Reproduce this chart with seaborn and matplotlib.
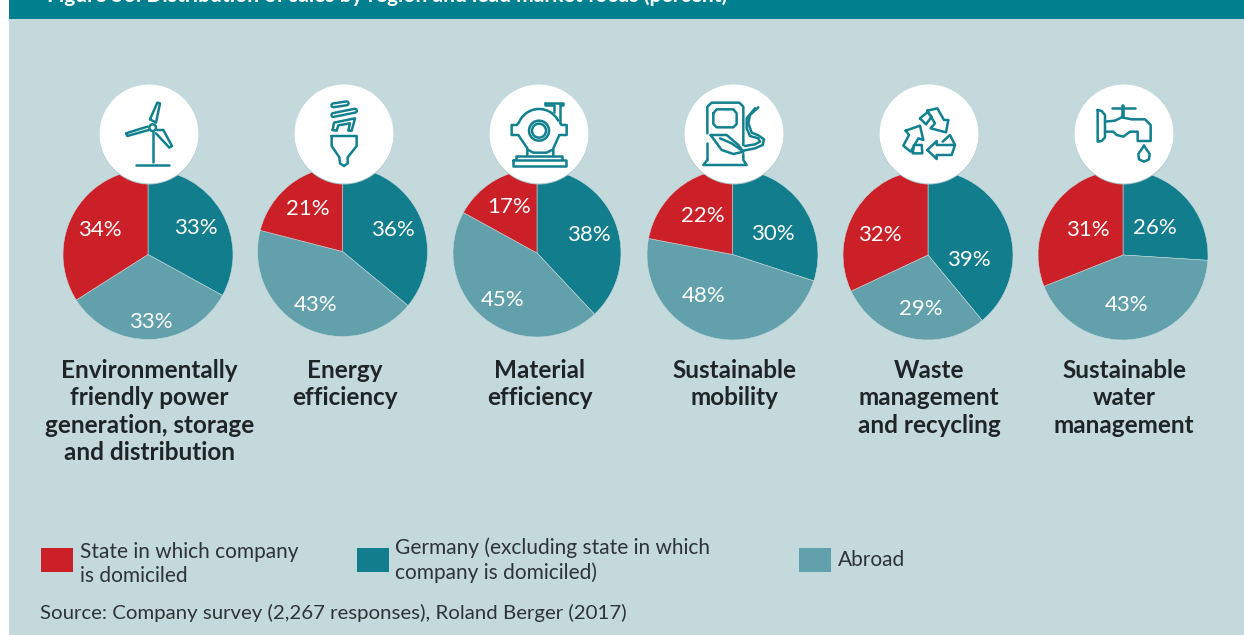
import matplotlib
matplotlib.use('Agg')
import matplotlib.pyplot as plt
from matplotlib.patches import Arc, Circle, Rectangle
import seaborn as sns

W, H = 1244, 635
DPI = 100

# values per market, in the order of the slices (clockwise from 12 o'clock)
MARKETS = ['Environmentally\nfriendly power\ngeneration, storage\nand distribution',
           'Energy\nefficiency',
           'Material\nefficiency',
           'Sustainable\nmobility',
           'Waste\nmanagement\nand recycling',
           'Sustainable\nwater\nmanagement']
GERMANY = [33, 36, 38, 30, 39, 26]
ABROAD = [33, 43, 45, 48, 29, 43]
STATE = [34, 21, 17, 22, 32, 31]

LEGEND_LABELS = ['State in which company\nis domiciled',
                 'Germany (excluding state in which\ncompany is domiciled)',
                 'Abroad']
TITLE = 'Figure 56: Distribution of sales by region and lead market focus (percent)'
SOURCE = 'Source: Company survey (2,267 responses), Roland Berger (2017)'

# layout in reference pixels
PIE_CENTERS = [(148, 254.5), (342.5, 251.5), (537, 253), (732.5, 254.5), (928, 255), (1123, 255)]
PIE_RADIUS = [85, 85, 84, 85.5, 85, 85]
ICON_CENTERS = [149, 344, 539, 734, 929, 1124]
TITLE_X = [149.5, 344.5, 539.5, 734, 929, 1124]
LABEL_POS = [[(196, 228), (151, 322), (100, 230)],
             [(393, 230), (316, 305), (308, 209)],
             [(589, 235), (503, 300), (509, 207)],
             [(773, 234), (704, 296), (703, 216)],
             [(969, 260), (921, 309), (880, 235)],
             [(1155, 228), (1127, 305), (1088, 230)]]

BAND = '#00808f'
PANEL = '#c4d9dc'
INK = '#2e3335'
ICON = '#12808e'

sns.set_theme(style='white')
plt.rcParams['font.family'] = ['Lato', 'DejaVu Sans']
palette = sns.color_palette(['#127d8c', '#62a0ab', '#cb2027'])
LW = 1.8


def Y(y):
    return H - y


def trace(ax, pts, ox, oy, closed=False, lw=LW, color=ICON):
    """Icon outline given in 3x crop coordinates, ox/oy is the crop origin."""
    xy = [(ox + x / 3, Y(oy + y / 3)) for x, y in pts]
    if closed:
        xy.append(xy[0])
    ax.plot(*zip(*xy), color=color, lw=lw, solid_capstyle='round',
            solid_joinstyle='round', zorder=6)


def ring(ax, x, y, r, ox, oy, lw=LW):
    ax.add_patch(Circle((ox + x / 3, Y(oy + y / 3)), r / 3, fc='none', ec=ICON, lw=lw, zorder=6))


def draw_turbine(ax):
    o = (50, 80)
    trace(ax, [(300, 118), (322, 68), (330, 70), (318, 128), (300, 118)], *o)
    trace(ax, [(296, 150), (232, 168), (228, 160), (292, 140)], *o)
    trace(ax, [(322, 150), (340, 150), (366, 198), (358, 203), (318, 160)], *o)
    ring(ax, 308, 143, 10, *o)
    trace(ax, [(308, 155), (308, 245)], *o)
    trace(ax, [(258, 256), (358, 256)], *o)


def draw_bulb(ax):
    o = (50, 80)
    for pts in ([(850, 76), (890, 70)], [(850, 105), (915, 92)]):
        trace(ax, pts, *o, lw=4.5)
        trace(ax, pts, *o, lw=1, color='white')
    trace(ax, [(848, 150), (852, 128), (915, 115), (905, 152), (895, 152), (900, 130),
               (865, 136), (860, 152)], *o, closed=True)
    trace(ax, [(845, 168), (920, 168), (920, 198), (893, 232), (893, 250), (882, 258),
               (870, 250), (868, 232), (845, 198)], *o, closed=True)


def draw_pump(ax):
    o = (450, 80)
    ring(ax, 267, 152, 30, *o)
    ring(ax, 267, 152, 21, *o)
    ax.add_patch(Arc((o[0] + 267 / 3, Y(o[1] + 152 / 3)), 130 / 3, 130 / 3,
                     theta1=25, theta2=160, ec=ICON, lw=LW, zorder=6))
    trace(ax, [(285, 68), (340, 68), (340, 75), (330, 75), (330, 128)], *o)
    trace(ax, [(285, 68), (285, 75), (312, 75), (312, 95)], *o)
    trace(ax, [(330, 128), (335, 135), (350, 135), (350, 165), (328, 165), (310, 205), (310, 228)], *o)
    trace(ax, [(205, 130), (200, 135), (185, 135), (185, 165), (205, 165), (232, 205), (232, 228)], *o)
    trace(ax, [(235, 210), (250, 218), (290, 218), (305, 210)], *o)
    trace(ax, [(198, 238), (198, 228), (335, 228), (335, 238)], *o)
    trace(ax, [(188, 240), (347, 240), (347, 258), (188, 258)], *o, closed=True)


def draw_fuel(ax):
    o = (450, 80)
    trace(ax, [(772, 160), (772, 80), (785, 68), (868, 68), (880, 80), (880, 195)], *o)
    trace(ax, [(772, 190), (772, 240)], *o)
    trace(ax, [(790, 100), (800, 88), (850, 88), (860, 100), (860, 132), (850, 142),
               (800, 142), (790, 132)], *o, closed=True)
    trace(ax, [(782, 165), (830, 165), (865, 195), (880, 215), (850, 222), (815, 210)], *o, closed=True)
    trace(ax, [(810, 175), (845, 190), (878, 213)], *o)
    trace(ax, [(880, 212), (915, 205), (938, 195), (942, 178), (925, 166), (905, 158),
               (895, 130), (900, 105), (925, 82)], *o)
    trace(ax, [(885, 198), (915, 193), (930, 185), (925, 175), (900, 168), (890, 145), (890, 115), (915, 85)], *o)
    trace(ax, [(880, 222), (880, 240), (890, 255), (760, 255), (772, 240)], *o)


def draw_recycle(ax):
    o = (840, 80)
    trace(ax, [(262, 92), (292, 85), (312, 120), (325, 120), (318, 157), (272, 145), (285, 130)], *o, closed=True)
    trace(ax, [(240, 115), (262, 97), (275, 110), (258, 133)], *o, closed=True)
    trace(ax, [(197, 152), (240, 137), (250, 180), (235, 175), (212, 215), (190, 197), (207, 165)], *o, closed=True)
    trace(ax, [(222, 195), (245, 195), (247, 220), (218, 220)], *o, closed=True)
    trace(ax, [(262, 210), (290, 183), (290, 195), (345, 195), (335, 225), (290, 225), (290, 237)], *o, closed=True)
    trace(ax, [(308, 185), (330, 165), (345, 195)], *o)


def draw_tap(ax):
    o = (840, 80)
    trace(ax, [(773, 90), (773, 185), (785, 183), (795, 172), (795, 105), (785, 93)], *o, closed=True)
    trace(ax, [(815, 85), (885, 85)], *o)
    trace(ax, [(850, 78), (850, 112)], *o, lw=2.6)
    trace(ax, [(795, 125), (825, 122), (845, 112), (875, 118), (915, 118), (932, 135), (932, 183),
               (893, 183), (893, 155), (870, 155), (850, 170), (830, 165), (820, 155), (795, 155)], *o)
    trace(ax, [(912, 197), (895, 222), (897, 238), (912, 245), (927, 238), (929, 222)], *o, closed=True)


fig = plt.figure(figsize=(W / DPI, H / DPI), dpi=DPI, facecolor='white')
ax = fig.add_axes([0, 0, 1, 1])

# pies first, they set frame and aspect
for i, market in enumerate(MARKETS):
    cx, cy = PIE_CENTERS[i]
    shares = [GERMANY[i], ABROAD[i], STATE[i]]
    ax.pie(shares, colors=palette, startangle=90, counterclock=False,
           center=(cx, Y(cy)), radius=PIE_RADIUS[i], frame=True,
           wedgeprops={'linewidth': 0.4, 'edgecolor': PANEL, 'zorder': 3})
    for share, (lx, ly) in zip(shares, LABEL_POS[i]):
        ax.text(lx, Y(ly), f'{share}%', color='white', fontsize=16, ha='center',
                va='center', zorder=5)
    ax.text(TITLE_X[i], Y(358.5), market, color='#1f2426', fontsize=17.5, fontweight='bold',
            ha='center', va='top', linespacing=1.24, zorder=5)

    ix = ICON_CENTERS[i]
    ax.add_patch(Circle((ix, Y(135)), 49.5, fc='#a8c4c8', ec='none', zorder=4))
    ax.add_patch(Circle((ix, Y(134)), 49.5, fc='white', ec='none', zorder=4))

for draw in (draw_turbine, draw_bulb, draw_pump, draw_fuel, draw_recycle, draw_tap):
    draw(ax)

ax.add_patch(Rectangle((9, 0), W - 9, H, fc=PANEL, ec='none', zorder=0))
ax.add_patch(Rectangle((9, Y(19)), W - 9, 19, fc=BAND, ec='none', zorder=1))
ax.text(47, Y(2), TITLE, color='white', fontsize=15.1, fontweight='bold', ha='left',
        va='baseline', zorder=2, clip_on=True)

# legend
for x0, color in zip((41, 357, 799), (palette[2], palette[0], palette[1])):
    ax.add_patch(Rectangle((x0, Y(572)), 32, 24, fc=color, ec='none', zorder=2))
ax.text(80, Y(564), LEGEND_LABELS[0], color=INK, fontsize=15, ha='left', va='center', linespacing=1.27)
ax.text(395, Y(560), LEGEND_LABELS[1], color=INK, fontsize=15, ha='left', va='center', linespacing=1.27)
ax.text(838, Y(560), LEGEND_LABELS[2], color=INK, fontsize=15, ha='left', va='center')
ax.text(40, Y(613), SOURCE, color=INK, fontsize=14.7, ha='left', va='center')

ax.set_xlim(0, W)
ax.set_ylim(0, H)
ax.set_aspect('equal')
ax.axis('off')

fig.savefig('out.png', dpi=DPI, facecolor='white')
